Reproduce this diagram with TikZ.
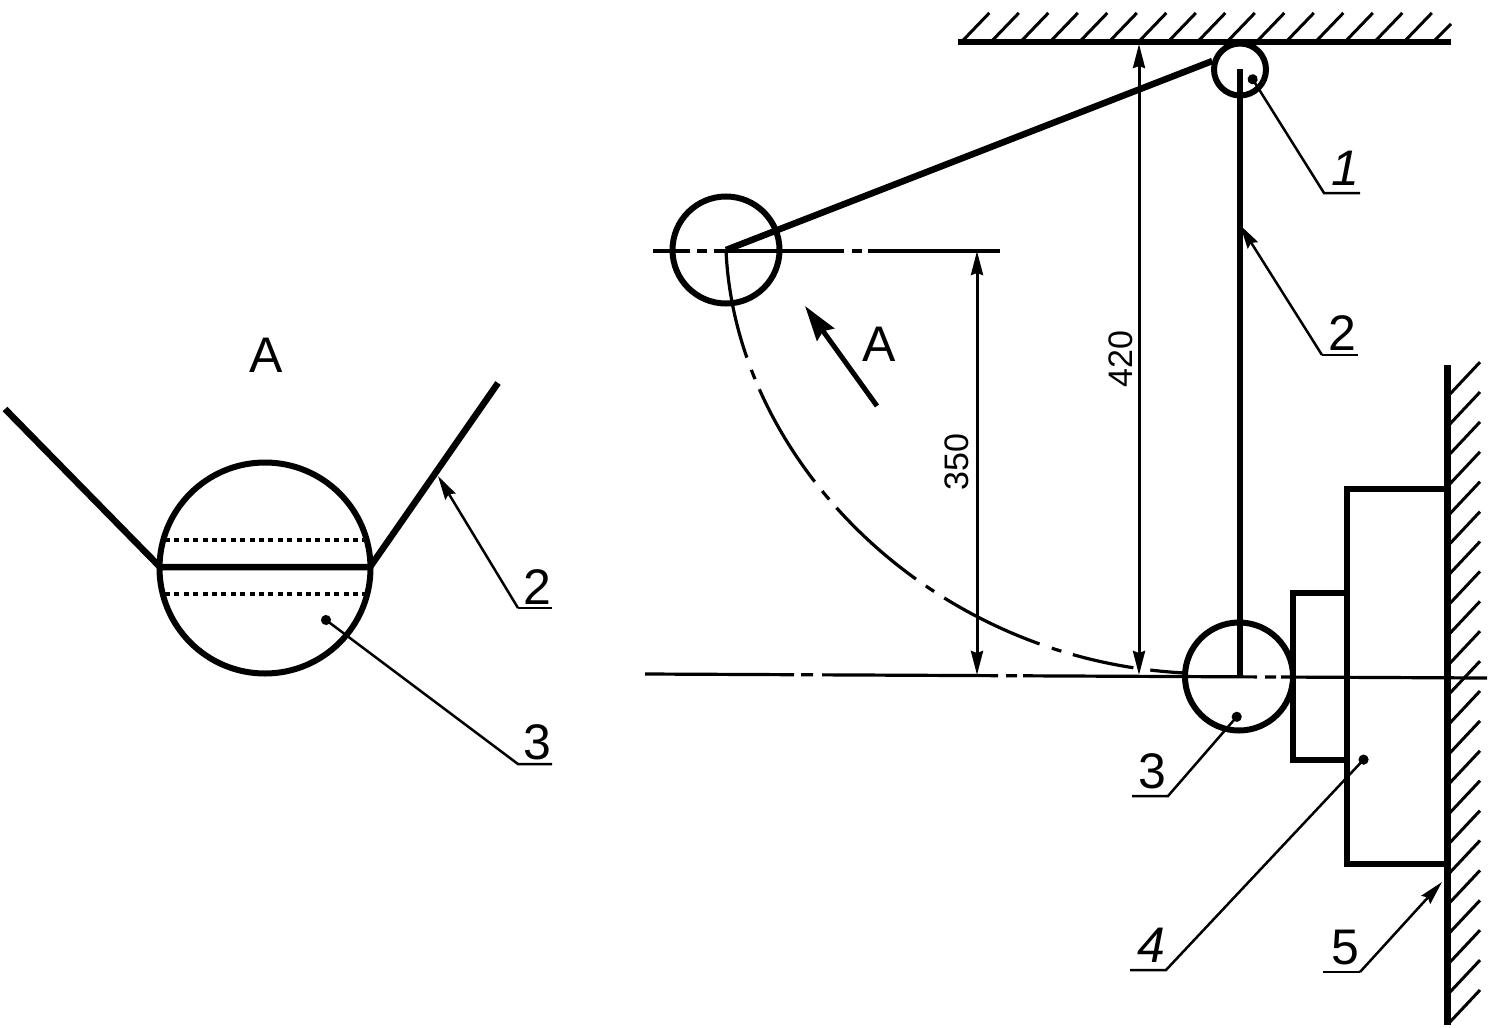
\documentclass[tikz,border=0pt]{standalone}
\usepackage{fontspec}
\setmainfont{Liberation Sans}
\usetikzlibrary{arrows.meta}
\tikzset{
  thickline/.style={line width=6.5pt},
  rim/.style={line width=6pt},
  blockline/.style={line width=5.5pt},
  thinline/.style={line width=3.2pt},
  hatch/.style={line width=3pt},
  dim/.style={line width=3pt,{Stealth[length=24pt,width=12pt,inset=2pt]}-{Stealth[length=24pt,width=12pt,inset=2pt]}},
  lead/.style={line width=2.5pt},
  leadarrow/.style={line width=2.5pt,-{Stealth[length=24pt,width=12pt,inset=3pt]}},
  leaddot/.style={line width=2.5pt,{Circle[length=10pt]}-},
  num/.style={font=\fontsize{50}{50}\selectfont,inner sep=0pt},
  inum/.style={font=\fontsize{50}{50}\itshape\selectfont,inner sep=0pt},
  dimtext/.style={font=\fontsize{34}{34}\selectfont,inner sep=0pt,rotate=90},
}
\begin{document}
\begin{tikzpicture}[x=1pt,y=-1pt]
\useasboundingbox (0,0) rectangle (1492,1028);
% ceiling
\draw[thickline] (958,42) -- (1451,42);
\foreach \k in {0,...,15}{
  \draw[hatch] ({963.3+29.5*\k},40) -- ++(26,-27);
}
\draw[hatch] (1435,40) -- (1451,24);
% wall
\draw[thickline,line width=7pt] (1447,365) -- (1447,1025);
\foreach \k in {0,...,21}{
  \draw[hatch] (1449,{1023-29.9*\k}) -- ++(31,-33);
}
% pivot and pendulum
\node[draw,circle,rim,minimum size=52pt,inner sep=0pt] (pivot) at (1240,69.5) {};
\coordinate (rodtop) at (1240,69);
\coordinate (rodbot) at (1240,675);
\coordinate (ballL) at (726,250);
\draw[thickline] (rodtop) -- (rodbot);
\draw[thickline] (ballL) -- (pivot.163);
\node[draw,circle,rim,minimum size=107pt,inner sep=0pt] (ballleft) at (ballL) {};
\node[draw,circle,rim,minimum size=108pt,inner sep=0pt] (ball) at (1239,676.5) {};
% blocks
\draw[blockline] (1293,700) -- (1293,593) -- (1346,593);
\draw[blockline] (1293,640) -- (1293,760) -- (1346,760);
\draw[rim] (1447,489) -- (1347,489) -- (1347,864) -- (1447,864);
% centre lines
\coordinate (hl) at (645,674);
\coordinate (hr) at (1487,678);
\draw[thinline,dash pattern=on 149pt off 7pt on 12pt off 9pt on 176pt off 8pt on 11pt off 6pt on 234pt off 8pt on 11pt off 5pt on 210pt] (hl) -- (hr);
\coordinate (tl) at (653,251);
\coordinate (tr) at (1000,251);
\draw[thinline,dash pattern=on 37pt off 7pt on 10pt off 7pt on 130pt off 8pt on 10pt off 6pt on 135pt] (tl) -- (tr);
\coordinate (arcend) at (1185,673);
\draw[thinline,dash pattern=on 110pt off 13pt on 10pt off 11pt on 108pt off 12pt on 11pt off 11pt on 107pt off 12pt on 10pt off 12pt on 106pt off 13pt on 10pt off 12pt on 62pt off 17pt on 34pt off 5pt]
  (ballL) .. controls (735,460) and (930,660) .. (arcend);
% dimensions
\coordinate (d1a) at (977,251);
\coordinate (d1b) at (977,675);
\draw[dim] (d1a) -- (d1b);
\coordinate (d2a) at (1139,44);
\coordinate (d2b) at (1139,675);
\draw[dim] (d2a) -- (d2b);
\node[dimtext] (t350) at (957,462) {350};
\node[dimtext] (t420) at (1121,359) {420};
% arrow A
\coordinate (aa) at (877,406);
\coordinate (ab) at (805,306);
\draw[line width=5pt,-{Stealth[length=35pt,width=21pt,inset=4pt]}] (aa) -- (ab);
\node[num] (tA) at (879,344) {A};
% leaders right
\coordinate (l1a) at (1250,75); \coordinate (l1b) at (1324,193); \coordinate (l1c) at (1360,193);
\draw[leaddot] (l1a) -- (l1b) -- (l1c);
\node[inum] (n1) at (1345,168) {1};
\coordinate (l2a) at (1240,225); \coordinate (l2b) at (1322,355); \coordinate (l2c) at (1358,355);
\draw[lead] (l2c) -- (l2b);
\draw[leadarrow] (l2b) -- (l2a);
\node[num] (n2) at (1342,333) {2};
\coordinate (l3a) at (1240,713); \coordinate (l3b) at (1168,796); \coordinate (l3c) at (1132,796);
\draw[leaddot] (l3a) -- (l3b) -- (l3c);
\node[num] (n3) at (1152,771) {3};
\coordinate (l4a) at (1367,756); \coordinate (l4b) at (1166,970); \coordinate (l4c) at (1130,970);
\draw[leaddot] (l4a) -- (l4b) -- (l4c);
\node[inum] (n4) at (1151,945) {4};
\coordinate (l5a) at (1442,882); \coordinate (l5b) at (1360,972); \coordinate (l5c) at (1323,972);
\draw[lead] (l5c) -- (l5b);
\draw[leadarrow] (l5b) -- (l5a);
\node[num] (n5) at (1345,948) {5};
% view A
\node[num] (vA) at (266,355) {A};
\node[draw,circle,rim,minimum size=211pt,inner sep=0pt] (vball) at (265,568) {};
\coordinate (vl) at (160,567); \coordinate (vr) at (370,567);
\coordinate (vtl) at (5,409); \coordinate (vtr) at (498,383);
\draw[thickline,line join=miter] (vtl) -- (vl) -- (vr) -- (vtr);
\coordinate (d1l) at (165,540); \coordinate (d1r) at (366,540);
\coordinate (d2l) at (165,594); \coordinate (d2r) at (366,594);
\draw[line width=4.5pt,dash pattern=on 5pt off 4.4pt] (d1l) -- (d1r);
\draw[line width=4.5pt,dash pattern=on 5pt off 4.4pt] (d2l) -- (d2r);
\coordinate (v2a) at (438,476); \coordinate (v2b) at (518,608); \coordinate (v2c) at (552,608);
\draw[lead] (v2c) -- (v2b);
\draw[leadarrow] (v2b) -- (v2a);
\node[num] (vn2) at (537,587) {2};
\coordinate (v3a) at (322,617); \coordinate (v3b) at (518,764); \coordinate (v3c) at (552,764);
\draw[leaddot] (v3a) -- (v3b) -- (v3c);
\node[num] (vn3) at (537,742) {3};
\end{tikzpicture}
\end{document}
